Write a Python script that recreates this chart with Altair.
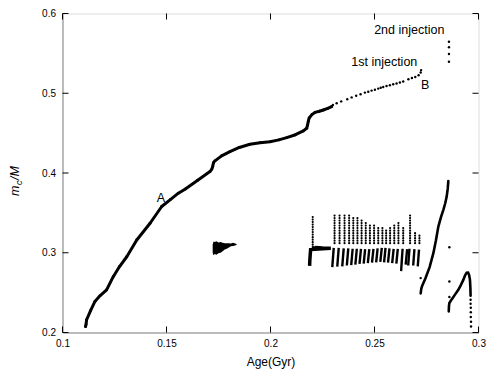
import altair as alt
import pandas as pd

W, H = 416, 319

# ---- main (dense) evolutionary track ----
main_x = [0.1111, 0.1113, 0.1116, 0.1135, 0.1156, 0.1180, 0.1212, 0.1244, 0.1275, 0.1309,
          0.1357, 0.1421, 0.1477, 0.1520, 0.1557, 0.1589, 0.1650, 0.1709, 0.1718, 0.1722,
          0.1726, 0.1733, 0.1765, 0.1805, 0.1850, 0.1901, 0.1950, 0.1998, 0.2040, 0.2078,
          0.2120, 0.2158, 0.2174, 0.2178, 0.2182, 0.2186, 0.2200, 0.2214, 0.2235, 0.2254,
          0.2275, 0.2294]
main_y = [0.2075, 0.2100, 0.2160, 0.2275, 0.2390, 0.2460, 0.2535, 0.2700, 0.2830, 0.2950,
          0.3160, 0.3370, 0.3580, 0.3670, 0.3747, 0.3797, 0.3910, 0.4018, 0.4050, 0.4080,
          0.4130, 0.4152, 0.4215, 0.4268, 0.4320, 0.4360, 0.4380, 0.4393, 0.4415, 0.4444,
          0.4480, 0.4528, 0.4561, 0.4600, 0.4650, 0.4690, 0.4735, 0.4760, 0.4775, 0.4790,
          0.4810, 0.4832]

# ---- sparse dots up to B ----
sp_x = [0.2300, 0.2318, 0.2340, 0.2369, 0.2390, 0.2412, 0.2433, 0.2454, 0.2470, 0.2486,
        0.2502, 0.2518, 0.2530, 0.2542, 0.2558, 0.2574, 0.2590, 0.2606, 0.2622, 0.2638,
        0.2663, 0.2680, 0.2696, 0.2712, 0.2722, 0.2724]
sp_y = [0.4852, 0.4875, 0.4898, 0.4925, 0.4948, 0.4968, 0.4988, 0.5008, 0.5020, 0.5033,
        0.5045, 0.5058, 0.5068, 0.5079, 0.5090, 0.5100, 0.5112, 0.5123, 0.5135, 0.5148,
        0.5175, 0.5190, 0.5205, 0.5225, 0.5260, 0.5290]

# ---- isolated dots (2nd injection and others) ----
iso_x = [0.2858, 0.2858, 0.2858, 0.2858, 0.2860, 0.2860, 0.2860, 0.2722]
iso_y = [0.5647, 0.5576, 0.5492, 0.5396, 0.3070, 0.2640, 0.2444, 0.2682]

# ---- right rising curve ----
r1_x = [0.2722, 0.2725, 0.2730, 0.2745, 0.2765, 0.2783, 0.2795, 0.2807, 0.2820, 0.2831,
        0.2840, 0.2847, 0.2852, 0.2855]
r1_y = [0.2490, 0.2550, 0.2590, 0.2680, 0.2820, 0.2995, 0.3150, 0.3328, 0.3450, 0.3538,
        0.3620, 0.3704, 0.3800, 0.3900]

# ---- right arch ----
r2_x = [0.2857, 0.2858, 0.2860, 0.2871, 0.2887, 0.2903, 0.2915, 0.2927, 0.2935, 0.2943,
        0.2950, 0.2955, 0.2959, 0.2961, 0.2962]
r2_y = [0.2265, 0.2330, 0.2370, 0.2415, 0.2475, 0.2535, 0.2595, 0.2660, 0.2715, 0.2750,
        0.2752, 0.2720, 0.2660, 0.2560, 0.2460]
tail_x = [0.2962, 0.2962, 0.2963, 0.2963, 0.2963, 0.2964, 0.2964]
tail_y = [0.2410, 0.2360, 0.2310, 0.2255, 0.2195, 0.2135, 0.2075]

# ---- blob near 0.175-0.184 ----
blob_x = [0.1722, 0.1726, 0.1732, 0.1740, 0.1750, 0.1760, 0.1770, 0.1780, 0.1790, 0.1800,
          0.1810, 0.1820, 0.1830, 0.1837]
blob_lo = [0.3000, 0.2970, 0.2985, 0.2975, 0.2995, 0.3000, 0.3020, 0.3040, 0.3050, 0.3065,
           0.3080, 0.3085, 0.3090, 0.3100]
blob_hi = [0.3105, 0.3140, 0.3135, 0.3145, 0.3130, 0.3135, 0.3125, 0.3120, 0.3120, 0.3118,
           0.3115, 0.3125, 0.3115, 0.3110]

# ---- oscillation region: upper spikes ----
spike_x = [0.2203, 0.2308, 0.2332, 0.2356, 0.2378, 0.2398, 0.2418, 0.2438, 0.2458, 0.2478,
           0.2498, 0.2518, 0.2538, 0.2556, 0.2575, 0.2595, 0.2615, 0.2638, 0.2671, 0.2695,
           0.2716]
spike_lo = [0.3070, 0.3120, 0.3120, 0.3120, 0.3120, 0.3120, 0.3120, 0.3120, 0.3120, 0.3120,
            0.3120, 0.3120, 0.3120, 0.3120, 0.3120, 0.3120, 0.3120, 0.3120, 0.3120, 0.3120,
            0.3120]
spike_hi = [0.3475, 0.3470, 0.3495, 0.3475, 0.3475, 0.3462, 0.3440, 0.3405, 0.3385, 0.3355,
            0.3360, 0.3330, 0.3320, 0.3300, 0.3320, 0.3350, 0.3390, 0.3340, 0.3475, 0.3270,
            0.3245]

# ---- oscillation region: lower slanted strokes ----
low_x0 = [0.2297, 0.2321, 0.2345, 0.2367, 0.2388, 0.2408, 0.2428, 0.2448, 0.2468, 0.2488,
          0.2508, 0.2528, 0.2546, 0.2565, 0.2585, 0.2605, 0.2628, 0.2650, 0.2662, 0.2686,
          0.2708]
low_x1 = [0.2304, 0.2328, 0.2352, 0.2374, 0.2395, 0.2415, 0.2435, 0.2455, 0.2475, 0.2495,
          0.2515, 0.2535, 0.2553, 0.2572, 0.2592, 0.2612, 0.2635, 0.2657, 0.2668, 0.2692,
          0.2714]
low_y0 = [0.2820, 0.2825, 0.2830, 0.2840, 0.2845, 0.2850, 0.2860, 0.2865, 0.2870, 0.2875,
          0.2880, 0.2885, 0.2880, 0.2875, 0.2870, 0.2865, 0.2770, 0.2850, 0.2840, 0.2840,
          0.2830]
low_y1 = [0.3060, 0.3060, 0.3055, 0.3055, 0.3050, 0.3050, 0.3050, 0.3045, 0.3045, 0.3050,
          0.3055, 0.3060, 0.3060, 0.3055, 0.3050, 0.3050, 0.3050, 0.3045, 0.3050, 0.3045,
          0.3040]

# first "Gamma" shaped feature
gam_x = [0.2188, 0.2189, 0.2191, 0.2193, 0.2200, 0.2215, 0.2250, 0.2290]
gam_y = [0.2835, 0.2900, 0.2980, 0.3040, 0.3060, 0.3065, 0.3060, 0.3055]

# annotations
ann_text = ["2nd injection", "1st injection", "B", "A"]
ann_x = [0.2667, 0.2547, 0.2744, 0.1473]
ann_y = [0.5743, 0.5342, 0.5050, 0.3642]

x_ticks = [0.1, 0.15, 0.2, 0.25, 0.3]
y_ticks = [0.2, 0.3, 0.4, 0.5, 0.6]

FONT = "Liberation Sans"
xs = alt.Scale(domain=[0.1, 0.3], nice=False, zero=False)
ys = alt.Scale(domain=[0.2, 0.6], nice=False, zero=False)
xaxis = alt.Axis(values=x_ticks, format=".2~f", ticks=False, grid=False, labelPadding=6,
                 labelFlush=False, title="Age(Gyr)", titlePadding=8,
                 titleFontWeight="normal", titleFont=FONT, titleFontSize=12)
yaxis = alt.Axis(values=y_ticks, format=".1f", ticks=False, grid=False, labelPadding=7,
                 labelFlush=False, title=None)


def X(f="x"):
    return alt.X(f"{f}:Q", scale=xs, axis=xaxis)


def Y(f="y"):
    return alt.Y(f"{f}:Q", scale=ys, axis=yaxis)


main_df = pd.DataFrame({"x": main_x, "y": main_y})
sp_df = pd.DataFrame({"x": sp_x, "y": sp_y})
iso_df = pd.DataFrame({"x": iso_x, "y": iso_y})
r1_df = pd.DataFrame({"x": r1_x, "y": r1_y})
r2_df = pd.DataFrame({"x": r2_x, "y": r2_y})
tail_df = pd.DataFrame({"x": tail_x, "y": tail_y})
blob_df = pd.DataFrame({"x": blob_x, "y": blob_lo, "y2": blob_hi})
spike_df = pd.DataFrame({"x": spike_x, "y": spike_lo, "y2": spike_hi})
low_df = pd.DataFrame({"x": low_x0, "x2": low_x1, "y": low_y0, "y2": low_y1})
gam_df = pd.DataFrame({"x": gam_x, "y": gam_y})
ann_df = pd.DataFrame({"x": ann_x, "y": ann_y, "t": ann_text})
xt_df = pd.DataFrame({"x": x_ticks})
yt_df = pd.DataFrame({"y": y_ticks})
one = pd.DataFrame({"a": [0]})

layers = []
layers.append(alt.Chart(main_df).mark_line(color="black", strokeWidth=3, strokeJoin="round",
                                           strokeCap="round").encode(x=X(), y=Y(), order="x:Q"))
layers.append(alt.Chart(main_df).mark_circle(color="black", size=8, opacity=1).encode(x=X(), y=Y()))
layers.append(alt.Chart(sp_df).mark_circle(color="black", size=6, opacity=1).encode(x=X(), y=Y()))
layers.append(alt.Chart(iso_df).mark_circle(color="black", size=6, opacity=1).encode(x=X(), y=Y()))
layers.append(alt.Chart(r1_df).mark_line(color="black", strokeWidth=2.6, strokeCap="round")
              .encode(x=X(), y=Y(), order="y:Q"))
layers.append(alt.Chart(r2_df).mark_line(color="black", strokeWidth=2.6, strokeCap="round")
              .encode(x=X(), y=Y(), order=alt.Order("x:Q")))
layers.append(alt.Chart(tail_df).mark_circle(color="black", size=6, opacity=1).encode(x=X(), y=Y()))
layers.append(alt.Chart(blob_df).mark_area(color="black", opacity=1)
              .encode(x=X(), y=Y(), y2="y2:Q"))
layers.append(alt.Chart(spike_df).mark_rule(color="black", strokeWidth=2.2, strokeCap="round",
                                            strokeDash=[0.01, 2.5])
              .encode(x=X(), y=Y(), y2="y2:Q"))
layers.append(alt.Chart(low_df).mark_rule(color="black", strokeWidth=2.4)
              .encode(x=X(), x2="x2:Q", y=Y(), y2="y2:Q"))
layers.append(alt.Chart(gam_df).mark_line(color="black", strokeWidth=3.5)
              .encode(x=X(), y=Y(), order=alt.Order("y:Q")))
layers.append(alt.Chart(ann_df).mark_text(font=FONT, fontSize=12.5, color="black", align="center",
                                          baseline="alphabetic")
              .encode(x=X(), y=Y(), text="t:N"))
# inward tick marks (bottom/top/left/right)
layers.append(alt.Chart(xt_df).mark_rule(color="black", strokeWidth=1)
              .encode(x=X(), y=alt.value(H), y2=alt.value(H - 6)))
layers.append(alt.Chart(xt_df).mark_rule(color="black", strokeWidth=1)
              .encode(x=X(), y=alt.value(0), y2=alt.value(6)))
layers.append(alt.Chart(yt_df).mark_rule(color="black", strokeWidth=1)
              .encode(y=Y(), x=alt.value(0), x2=alt.value(6)))
layers.append(alt.Chart(yt_df).mark_rule(color="black", strokeWidth=1)
              .encode(y=Y(), x=alt.value(W), x2=alt.value(W - 6)))
# y title: m_c /M
layers.append(alt.Chart(one).mark_text(font=FONT, fontSize=12.5, fontStyle="italic", angle=270,
                                       align="left", baseline="alphabetic", color="black", text="m")
              .encode(x=alt.value(-44), y=alt.value(182.5)))
layers.append(alt.Chart(one).mark_text(font=FONT, fontSize=9, fontStyle="italic", angle=270,
                                       align="left", baseline="alphabetic", color="black", text="c")
              .encode(x=alt.value(-41), y=alt.value(171.5)))
layers.append(alt.Chart(one).mark_text(font=FONT, fontSize=12.5, fontStyle="italic", angle=270,
                                       align="left", baseline="alphabetic", color="black", text=" /M")
              .encode(x=alt.value(-44), y=alt.value(166.5)))

chart = alt.layer(*layers).properties(
    width=W, height=H,
    autosize=alt.AutoSizeParams(type="none"),
    padding={"left": 54.5, "top": 5.5, "right": 13.5, "bottom": 40},
).configure_view(stroke="black", strokeWidth=1).configure_axis(
    domainColor="black", domainWidth=1, labelColor="black", labelFont=FONT, labelFontSize=12,
    titleFont=FONT, titleFontSize=12, titleFontWeight="normal", titleColor="black"
).configure(background="white")

chart.save("out.html", embed_options={"renderer": "svg", "actions": False})
